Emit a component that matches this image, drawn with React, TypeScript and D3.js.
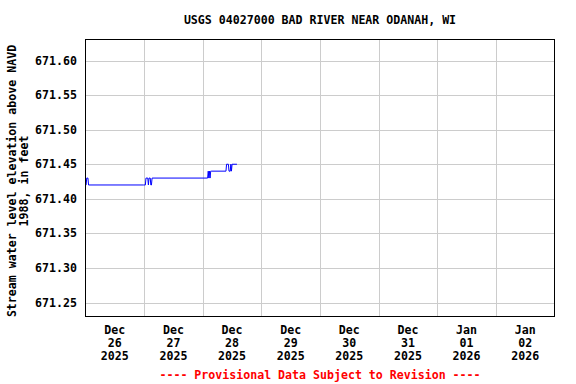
import React from "react";
import * as d3 from "d3";

const title = "USGS 04027000 BAD RIVER NEAR ODANAH, WI";
const yLabelLines = ["Stream water level elevation above NAVD", "1988, in feet"];
const footer = "---- Provisional Data Subject to Revision ----";

const yTicks = [671.25, 671.3, 671.35, 671.4, 671.45, 671.5, 671.55, 671.6];
const xTickDays = ["2025-12-26", "2025-12-27", "2025-12-28", "2025-12-29", "2025-12-30", "2025-12-31", "2026-01-01", "2026-01-02"];
const xTickMonth = ["Dec", "Dec", "Dec", "Dec", "Dec", "Dec", "Jan", "Jan"];
const xTickDay = ["26", "27", "28", "29", "30", "31", "01", "02"];
const xTickYear = ["2025", "2025", "2025", "2025", "2025", "2025", "2026", "2026"];

const times = [
  "2025-12-26T00:00", "2025-12-26T00:15", "2025-12-26T00:30", "2025-12-26T01:00", "2025-12-26T01:15",
  "2025-12-26T23:45", "2025-12-27T00:30", "2025-12-27T00:45", "2025-12-27T01:30", "2025-12-27T01:45",
  "2025-12-27T02:00", "2025-12-27T02:30", "2025-12-27T02:45", "2025-12-27T03:00", "2025-12-27T03:15",
  "2025-12-28T01:45", "2025-12-28T02:00", "2025-12-28T02:15", "2025-12-28T02:30", "2025-12-28T02:45",
  "2025-12-28T03:00", "2025-12-28T03:15", "2025-12-28T03:30", "2025-12-28T09:30", "2025-12-28T09:45",
  "2025-12-28T10:30", "2025-12-28T10:45", "2025-12-28T11:15", "2025-12-28T11:30", "2025-12-28T11:45",
  "2025-12-28T12:00", "2025-12-28T14:00",
];
const values = [
  671.42, 671.42, 671.43, 671.43, 671.42,
  671.42, 671.42, 671.43, 671.43, 671.42,
  671.43, 671.43, 671.42, 671.42, 671.43,
  671.43, 671.43, 671.44, 671.43, 671.44,
  671.43, 671.44, 671.44, 671.44, 671.45,
  671.45, 671.44, 671.44, 671.45, 671.44,
  671.45, 671.45,
];

const W = 576, H = 384;
const L = 85.5, R = 554.5, T = 39.5, B = 316.5;
const FONT = "'DejaVu Sans Mono', monospace";
const FS = 11.6;

export default function App() {
  const x = d3.scaleTime()
    .domain([new Date("2025-12-26T00:00"), new Date("2026-01-03T00:00")])
    .range([L, R]);
  const y = d3.scaleLinear().domain([671.2298, 671.6304]).range([B, T]);
  const data = times.map((t, i) => ({ t: new Date(t), v: values[i] }));
  const line = d3.line<{ t: Date; v: number }>().x(d => x(d.t)).y(d => y(d.v));
  const dayBounds = d3.timeDay.range(new Date("2025-12-27T00:00"), new Date("2026-01-03T00:00"));

  return (
    <svg width={W} height={H} style={{ position: "absolute", left: 0, top: 0, background: "#fff" }}
      fontFamily={FONT} fontWeight="bold" fontSize={FS}>
      <rect x={0} y={0} width={W} height={H} fill="#fff" />
      {yTicks.map(v => (
        <line key={"gy" + v} x1={L} x2={R} y1={Math.round(y(v)) + 0.5} y2={Math.round(y(v)) + 0.5} stroke="#cccccc" />
      ))}
      {dayBounds.map(d => (
        <line key={"gx" + d.getTime()} x1={Math.round(x(d)) + 0.5} x2={Math.round(x(d)) + 0.5} y1={T} y2={B} stroke="#cccccc" />
      ))}
      <path d={line(data) || ""} fill="none" stroke="#0000ff" strokeWidth={1} />
      <rect x={L} y={T} width={R - L} height={B - T} fill="none" stroke="#000" />
      {yTicks.map(v => (
        <text key={"ly" + v} x={77} y={y(v) + 4} textAnchor="end">{d3.format(".2f")(v)}</text>
      ))}
      {xTickDays.map((d, i) => {
        const cx = x(d3.timeHour.offset(new Date(d + "T00:00"), 12));
        return (
          <text key={"lx" + d} textAnchor="middle">
            <tspan x={cx} y={334}>{xTickMonth[i]}</tspan>
            <tspan x={cx} y={347}>{xTickDay[i]}</tspan>
            <tspan x={cx} y={360}>{xTickYear[i]}</tspan>
          </text>
        );
      })}
      <text x={(L + R) / 2} y={24} textAnchor="middle">{title}</text>
      <text transform={`translate(16,181) rotate(-90)`} textAnchor="middle">
        <tspan x={0} y={0}>{yLabelLines[0]}</tspan>
        <tspan x={0} y={12}>{yLabelLines[1]}</tspan>
      </text>
      <text x={(L + R) / 2} y={379} textAnchor="middle" fill="#ff0000">{footer}</text>
    </svg>
  );
}
